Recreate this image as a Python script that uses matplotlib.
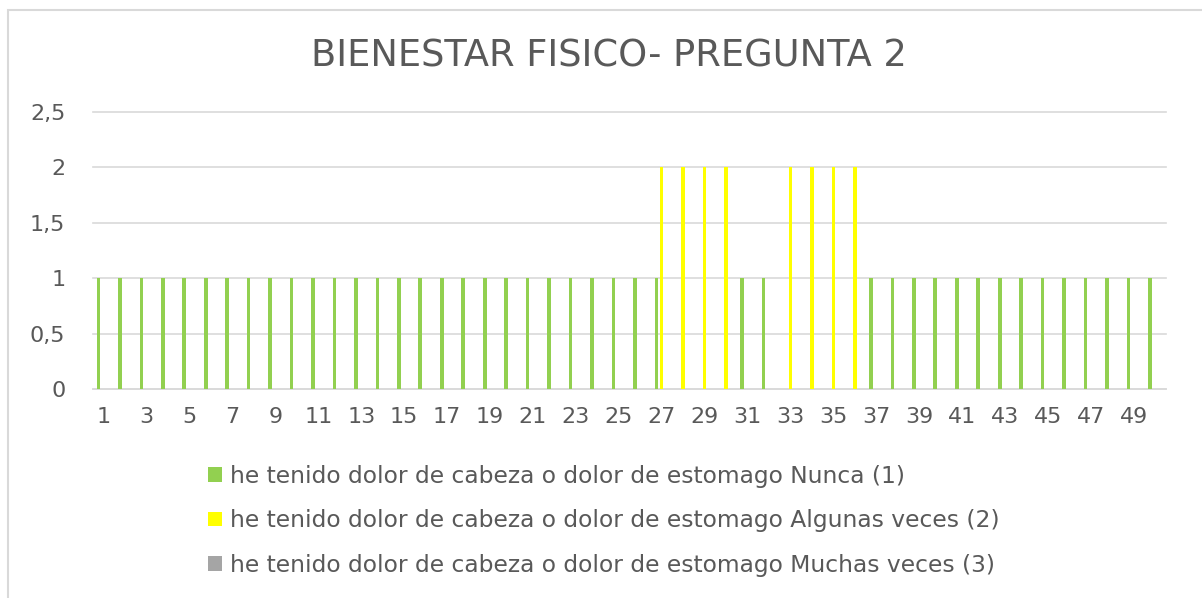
import numpy as np
import matplotlib.pyplot as plt
from matplotlib.patches import Rectangle

categories = list(range(1, 51))
nunca = [1] * 27 + [0, 0, 0, 1, 1, 0, 0, 0, 0] + [1] * 14
algunas = [0] * 26 + [2, 2, 2, 2, 0, 0, 2, 2, 2, 2] + [0] * 14
muchas = [0] * 50

labels = [
    "he tenido dolor de cabeza o dolor de estomago Nunca (1)",
    "he tenido dolor de cabeza o dolor de estomago Algunas veces (2)",
    "he tenido dolor de cabeza o dolor de estomago Muchas veces (3)",
]
colors = ["#92D050", "#FFFF00", "#A5A5A5"]
yticks = [0, 0.5, 1, 1.5, 2, 2.5]
ytick_labels = ["0", "0,5", "1", "1,5", "2", "2,5"]

TEXT = "#595959"
GRID = "#D9D9D9"

fig = plt.figure(figsize=(12.02, 5.98), dpi=100)
ax = fig.add_axes([0.0774, 0.349, 0.8926, 0.4642])

x = np.array(categories)
step = 0.248
width = 0.17
for i, (vals, lab, col) in enumerate(zip([nunca, algunas, muchas], labels, colors)):
    ax.bar(x + (i - 1) * step, vals, width=width, color=col, label=lab, zorder=3)

ax.set_xlim(0.5, 50.5)
ax.set_ylim(0, 2.5)
ax.set_yticks(yticks)
ax.set_yticklabels(ytick_labels)
ax.set_xticks(categories[::2])
ax.set_xticklabels([str(c) for c in categories[::2]])
ax.tick_params(axis="both", length=0, labelsize=16, labelcolor=TEXT)
ax.tick_params(axis="y", pad=20)
ax.tick_params(axis="x", pad=13)
ax.grid(axis="y", color=GRID, linewidth=1.2, zorder=0)
for line in ax.get_ygridlines():
    line.set_clip_on(False)
for s in ["top", "right", "left"]:
    ax.spines[s].set_visible(False)
ax.spines["bottom"].set_color(GRID)
ax.spines["bottom"].set_linewidth(1.2)

fig.text(609 / 1202, 1 - 56 / 598, "BIENESTAR FISICO- PREGUNTA 2",
         ha="center", va="center", fontsize=26.5, color=TEXT)

fig.legend(loc="upper left", bbox_to_anchor=(196 / 1202, 1 - 453 / 598),
           frameon=False, fontsize=16.8, labelcolor=TEXT,
           handlelength=0.6, handleheight=0.6, handletextpad=0.35,
           labelspacing=0.92, borderpad=0)

fig.add_artist(Rectangle((8, -20), 1250, 598 - 10 + 20, transform=None,
                         fill=False, edgecolor=GRID, linewidth=1.5))

fig.savefig("out.png", dpi=100)
